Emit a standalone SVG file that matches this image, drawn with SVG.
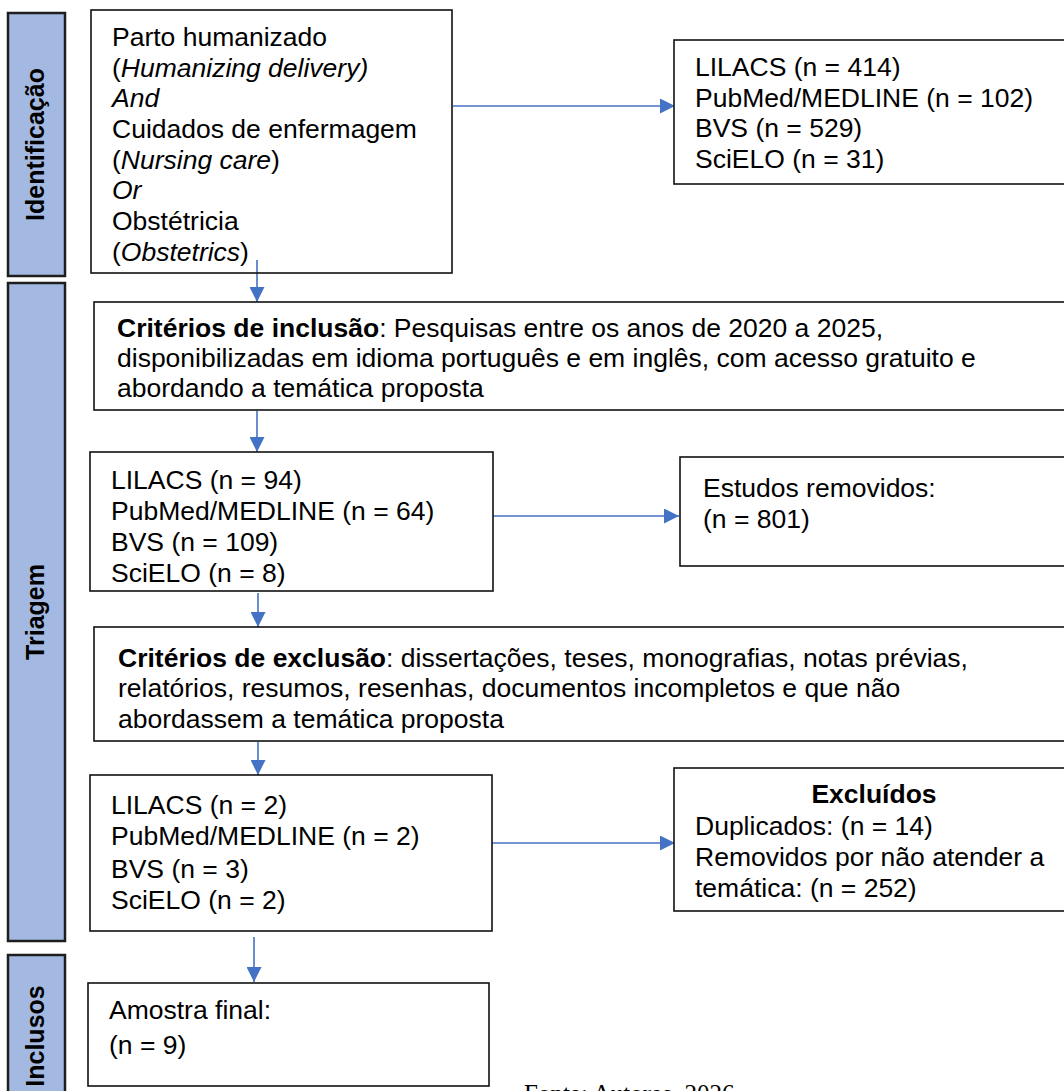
<svg xmlns="http://www.w3.org/2000/svg" width="1064" height="1091" viewBox="0 0 1064 1091">
<style>
.bar{fill:#a4b9e1;stroke:#1e1e1e;stroke-width:2.5}
.box{fill:#fff;stroke:#111;stroke-width:1.6}
.t{font-family:"Liberation Sans",Arial,sans-serif;font-size:26.5px;fill:#000}
.bl{font-family:"Liberation Sans",Arial,sans-serif;font-size:25px;font-weight:bold;fill:#000}
.b{font-weight:bold}
.i{font-style:italic}
.conn{stroke:#4472c4;stroke-width:1.6;fill:none}
</style>
<defs>
<marker id="ah" markerUnits="userSpaceOnUse" markerWidth="15" markerHeight="15" refX="15" refY="7.5" orient="auto">
<path d="M0,0 L15,7.5 L0,15 z" fill="#4472c4"/>
</marker>
</defs>
<rect width="1064" height="1091" fill="#fff"/>

<g id="stage-identificacao">
<rect class="bar" x="8" y="13" width="57" height="263"/>
<text class="bl" transform="translate(44,144.5) rotate(-90)" text-anchor="middle">Identificação</text>
</g>
<g id="stage-triagem">
<rect class="bar" x="8" y="283" width="57" height="658"/>
<text class="bl" transform="translate(44,612) rotate(-90)" text-anchor="middle">Triagem</text>
</g>
<g id="stage-inclusos">
<rect class="bar" x="8" y="955" width="57" height="150"/>
<text class="bl" transform="translate(44,1036) rotate(-90)" text-anchor="middle">Inclusos</text>
</g>

<g id="connectors">
<path class="conn" d="M453,106 H675" marker-end="url(#ah)"/>
<path class="conn" d="M257,260 V302" marker-end="url(#ah)"/>
<path class="conn" d="M257,411 V452" marker-end="url(#ah)"/>
<path class="conn" d="M493,516 H679" marker-end="url(#ah)"/>
<path class="conn" d="M258,593 V627" marker-end="url(#ah)"/>
<path class="conn" d="M258,742 V775" marker-end="url(#ah)"/>
<path class="conn" d="M492,843 H675" marker-end="url(#ah)"/>
<path class="conn" d="M254,937 V982" marker-end="url(#ah)"/>
</g>

<g id="search-terms">
<rect class="box" x="91" y="10" width="361" height="263" style="fill:none"/>
<text class="t" x="112" y="46">Parto humanizado</text>
<text class="t" x="112" y="76.5">(<tspan class="i">Humanizing delivery)</tspan></text>
<text class="t i" x="112" y="107">And</text>
<text class="t" x="112" y="138">Cuidados de enfermagem</text>
<text class="t" x="112" y="168.5">(<tspan class="i">Nursing care</tspan>)</text>
<text class="t i" x="112" y="199">Or</text>
<text class="t" x="112" y="230">Obstétricia</text>
<text class="t" x="112" y="261">(<tspan class="i">Obstetrics</tspan>)</text>
</g>

<g id="databases-initial">
<rect class="box" x="674" y="40" width="400" height="144"/>
<text class="t" x="695" y="76">LILACS (n = 414)</text>
<text class="t" x="695" y="106.5">PubMed/MEDLINE (n = 102)</text>
<text class="t" x="695" y="137">BVS (n = 529)</text>
<text class="t" x="695" y="167.5">SciELO (n = 31)</text>
</g>

<g id="inclusion-criteria">
<rect class="box" x="94" y="302" width="980" height="108"/>
<text class="t" x="117" y="337"><tspan class="b">Critérios de inclusão</tspan>: Pesquisas entre os anos de 2020 a 2025,</text>
<text class="t" x="117" y="367">disponibilizadas em idioma português e em inglês, com acesso gratuito e</text>
<text class="t" x="117" y="397">abordando a temática proposta</text>
</g>

<g id="databases-screened">
<rect class="box" x="90" y="452" width="403" height="139"/>
<text class="t" x="111" y="489">LILACS (n = 94)</text>
<text class="t" x="111" y="520">PubMed/MEDLINE (n = 64)</text>
<text class="t" x="111" y="551">BVS (n = 109)</text>
<text class="t" x="111" y="582">SciELO (n = 8)</text>
</g>

<g id="removed-studies">
<rect class="box" x="680" y="457" width="400" height="109"/>
<text class="t" x="703" y="497">Estudos removidos:</text>
<text class="t" x="703" y="528">(n = 801)</text>
</g>

<g id="exclusion-criteria">
<rect class="box" x="94" y="627" width="980" height="114"/>
<text class="t" x="118" y="667"><tspan class="b">Critérios de exclusão</tspan>: dissertações, teses, monografias, notas prévias,</text>
<text class="t" x="118" y="697">relatórios, resumos, resenhas, documentos incompletos e que não</text>
<text class="t" x="118" y="728">abordassem a temática proposta</text>
</g>

<g id="databases-final">
<rect class="box" x="90" y="775" width="402" height="156"/>
<text class="t" x="111" y="814">LILACS (n = 2)</text>
<text class="t" x="111" y="845">PubMed/MEDLINE (n = 2)</text>
<text class="t" x="111" y="878">BVS (n = 3)</text>
<text class="t" x="111" y="909">SciELO (n = 2)</text>
</g>

<g id="excluded">
<rect class="box" x="674" y="768" width="400" height="143"/>
<text class="t b" x="874" y="803" text-anchor="middle">Excluídos</text>
<text class="t" x="695" y="835">Duplicados: (n = 14)</text>
<text class="t" x="695" y="866">Removidos por não atender a</text>
<text class="t" x="695" y="897">temática: (n = 252)</text>
</g>

<g id="final-sample">
<rect class="box" x="88" y="983" width="401" height="103"/>
<text class="t" x="109" y="1019">Amostra final:</text>
<text class="t" x="109" y="1054">(n = 9)</text>
</g>

<text x="524" y="1102" font-family="'Liberation Serif','Times New Roman',serif" font-size="25" fill="#000">Fonte: Autores, 2026</text>
</svg>
